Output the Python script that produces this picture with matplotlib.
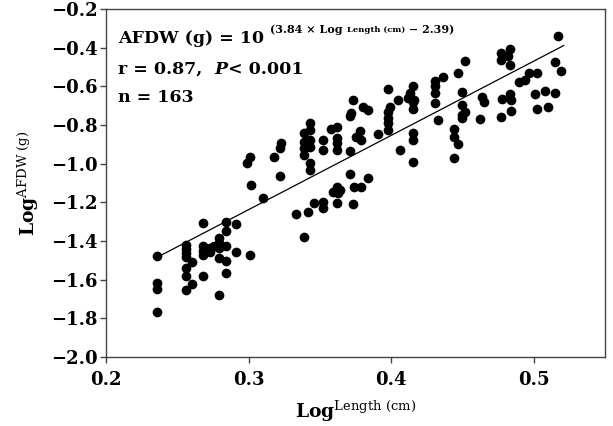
import matplotlib
matplotlib.use("Agg")
import matplotlib.pyplot as plt
import numpy as np

# Log length (cm) and log AFDW (g)
log_length = [
    0.236, 0.236, 0.236, 0.236,
    0.256, 0.256, 0.256, 0.256, 0.260, 0.256, 0.256, 0.260, 0.256,
    0.268, 0.268, 0.268, 0.268, 0.273, 0.273, 0.268,
    0.276, 0.279, 0.279, 0.279, 0.284, 0.279, 0.284, 0.284, 0.284,
    0.291, 0.291, 0.284, 0.279, 0.301,
    0.302, 0.310, 0.299, 0.301, 0.318, 0.322, 0.323, 0.322,
    0.333, 0.339, 0.342, 0.346, 0.352, 0.352,
    0.343, 0.343, 0.339, 0.343, 0.339, 0.339, 0.343, 0.339, 0.343, 0.343,
    0.352, 0.352, 0.358, 0.362, 0.362, 0.362, 0.362,
    0.362, 0.364, 0.359, 0.363, 0.362,
    0.371, 0.371, 0.373, 0.372, 0.371, 0.373,
    0.375, 0.378, 0.379, 0.374, 0.379, 0.384, 0.380, 0.384, 0.391,
    0.398, 0.399, 0.398, 0.398, 0.398, 0.398, 0.405, 0.406,
    0.412, 0.413, 0.415, 0.415, 0.416, 0.415, 0.415, 0.415, 0.415,
    0.431, 0.431, 0.431, 0.431, 0.436, 0.433,
    0.444, 0.444, 0.447, 0.444, 0.447, 0.452,
    0.450, 0.450, 0.450, 0.452, 0.450, 0.464, 0.465, 0.462,
    0.477, 0.483, 0.477, 0.482, 0.483, 0.478, 0.483, 0.484, 0.477, 0.484,
    0.490, 0.494, 0.497, 0.502, 0.501, 0.502, 0.508, 0.510,
    0.515, 0.515, 0.519, 0.517,
]
log_afdw = [
    -1.480, -1.615, -1.646, -1.765,
    -1.423, -1.443, -1.464, -1.485, -1.511, -1.542, -1.579, -1.620, -1.651,
    -1.307, -1.428, -1.454, -1.474, -1.438, -1.459, -1.579,
    -1.428, -1.386, -1.412, -1.438, -1.428, -1.490, -1.506, -1.302, -1.350,
    -1.310, -1.459, -1.568, -1.677, -1.470,
    -1.108, -1.177, -0.995, -0.964, -0.964, -1.065, -0.895, -0.921,
    -1.258, -1.380, -1.250, -1.202, -1.198, -1.232,
    -0.791, -0.826, -0.843, -0.878, -0.886, -0.921, -0.912, -0.955, -0.999, -1.033,
    -0.878, -0.930, -0.822, -0.809, -0.869, -0.895, -0.930,
    -1.120, -1.137, -1.146, -1.154, -1.206,
    -1.054, -0.933, -0.670, -0.739, -0.753, -1.210,
    -0.860, -0.829, -0.878, -1.120, -1.120, -1.076, -0.705, -0.722, -0.848,
    -0.612, -0.705, -0.731, -0.765, -0.791, -0.826, -0.670, -0.930,
    -0.661, -0.635, -0.601, -0.679, -0.670, -0.718, -0.843, -0.878, -0.990,
    -0.575, -0.601, -0.635, -0.687, -0.552, -0.774,
    -0.822, -0.860, -0.898, -0.973, -0.531, -0.471,
    -0.627, -0.696, -0.748, -0.731, -0.765, -0.654, -0.679, -0.769,
    -0.426, -0.407, -0.462, -0.445, -0.488, -0.666, -0.639, -0.670, -0.757, -0.727,
    -0.580, -0.570, -0.529, -0.529, -0.639, -0.718, -0.622, -0.708,
    -0.635, -0.476, -0.523, -0.341,
]

# regression from the equation in the panel
slope = 3.84
intercept = -2.39
fit_x = np.array([0.238, 0.521])

x_ticks = [0.2, 0.3, 0.4, 0.5]
y_ticks = [-2.0, -1.8, -1.6, -1.4, -1.2, -1.0, -0.8, -0.6, -0.4, -0.2]

plt.rcParams["font.family"] = ["DejaVu Serif"]
plt.rcParams["mathtext.fontset"] = "dejavuserif"

fig = plt.figure(figsize=(6.13, 4.26), dpi=100)
ax = fig.add_axes([0.173, 0.162, 0.814, 0.817])

ax.plot(log_length, log_afdw, "o", color="black", ms=7, mew=0)
ax.plot(fit_x, slope * fit_x + intercept, color="black", lw=0.9)

ax.set_xlim(0.2, 0.55)
ax.set_ylim(-2.0, -0.2)
ax.set_xticks(x_ticks)
ax.set_yticks(y_ticks)
ax.set_xticklabels([f"{v:.1f}" for v in x_ticks])
ax.set_yticklabels([f"{v:.1f}".replace("-", "\u2212") for v in y_ticks])

for s in ax.spines.values():
    s.set_color("#444444")
    s.set_linewidth(1)
ax.tick_params(axis="both", direction="out", length=4.5, width=1,
               color="#444444", labelsize=13)
ax.tick_params(axis="x", pad=5.5)
ax.tick_params(axis="y", pad=1.5)
for lab in ax.get_xticklabels() + ax.get_yticklabels():
    lab.set_fontweight("bold")

ax.set_xlabel(r"Log$^{\mathrm{Length\ (cm)}}$", fontsize=13.5, fontweight="bold", labelpad=7)
ax.set_ylabel(r"Log$^{\mathrm{AFDW\ (g)}}$", fontsize=13.5, fontweight="bold", labelpad=7)

# text block, drawn piece by piece so sizes and offsets can differ
renderer = fig.canvas.get_renderer()


def draw_pieces(x, y, pieces):
    off = 0.0
    for txt, size, dy, style in pieces:
        t = ax.annotate(txt, xy=(x, y), xycoords="axes fraction",
                        xytext=(off, dy), textcoords="offset points",
                        fontsize=size, fontweight="bold", fontstyle=style,
                        ha="left", va="baseline")
        w = t.get_window_extent(renderer).width * 72 / fig.dpi
        off += w


draw_pieces(0.024, 0.902, [
    ("AFDW (g) = 10 ", 12.5, 0, "normal"),
    ("(3.84 \u00d7 Log ", 8, 7, "normal"),
    ("Length (cm)", 6, 8, "normal"),
    (" \u2212 2.39)", 8, 7, "normal"),
])
draw_pieces(0.024, 0.813, [
    ("r = 0.87,  ", 12.5, 0, "normal"),
    ("P", 12.5, 0, "italic"),
    ("< 0.001", 12.5, 0, "normal"),
])
draw_pieces(0.024, 0.734, [
    ("n = 163", 12.5, 0, "normal"),
])

fig.savefig("out.png", dpi=100)
